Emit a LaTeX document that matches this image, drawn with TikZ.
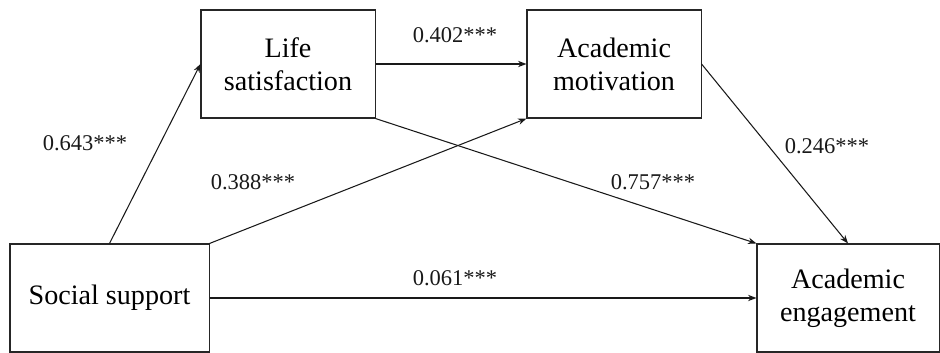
\documentclass[tikz,border=0pt]{standalone}
\usepackage{fontspec}
\setmainfont{Liberation Serif}
\usetikzlibrary{arrows.meta}

\tikzstyle{construct} = [
rectangle,
minimum height=2.7cm,
text centered,
align=center,
inner sep=0pt,
draw=black!85,
line width=0.75pt,
font=\fontsize{20}{23.5}\selectfont
]
\tikzstyle{coef} = [
inner sep=0pt,
text=black!90,
font=\fontsize{16}{19}\selectfont
]
\tikzstyle{arrow} = [
line width=0.75pt,
draw=black!90,
->,
>={Stealth[length=6pt,width=4.5pt]}
]

\begin{document}
\begin{tikzpicture}[
x=0.025cm,
y=-0.025cm
]

\useasboundingbox (0,0) rectangle (940,353);

\node (social) [construct, minimum width=4.975cm] at (109.5,298)
{Social support};

\node (life) [construct, minimum width=4.35cm] at (288,64)
{Life\\satisfaction};

\node (motivation) [construct, minimum width=4.35cm] at (614,64)
{Academic\\motivation};

\node (engagement) [construct, minimum width=4.55cm] at (848,298)
{Academic\\engagement};

\draw [arrow] (social.north) -- (life.west);

\draw [arrow] (social.north east) -- (motivation.south west);

\draw [arrow] (life.east) -- (motivation.west);

\draw [arrow] (life.south east) -- (engagement.north west);

\draw [arrow] (motivation.east) -- (engagement.north);

\draw [arrow] (social.east) -- (engagement.west);

\node (c643) [coef] at (85,143) {0.643***};
\node (c388) [coef] at (253,182) {0.388***};
\node (c402) [coef] at (455,35) {0.402***};
\node (c757) [coef] at (653,182) {0.757***};
\node (c246) [coef] at (827,146) {0.246***};
\node (c061) [coef] at (455,278) {0.061***};

\end{tikzpicture}
\end{document}
